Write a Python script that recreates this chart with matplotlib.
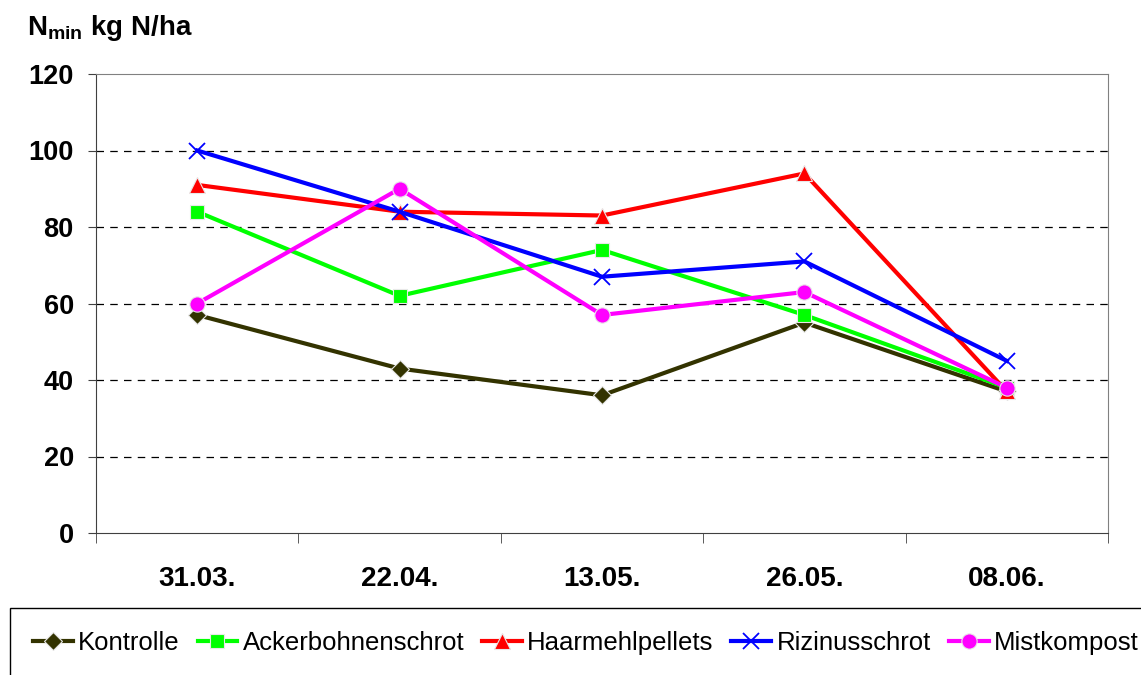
import numpy as np
import matplotlib
matplotlib.use('Agg')
import matplotlib.pyplot as ppl
from matplotlib.patches import Rectangle

ppl.rcParams['font.family'] = ['Liberation Sans', 'DejaVu Sans']
ppl.rcParams['mathtext.fontset'] = 'custom'
ppl.rcParams['mathtext.bf'] = 'Liberation Sans:bold'
ppl.rcParams['mathtext.rm'] = 'Liberation Sans'

# data
dates = ['31.03.', '22.04.', '13.05.', '26.05.', '08.06.']
kontrolle = [57, 43, 36, 55, 37]
ackerbohnen = [84, 62, 74, 57, 38]
haarmehl = [91, 84, 83, 94, 37]
rizinus = [100, 84, 67, 71, 45]
mistkompost = [60, 90, 57, 63, 38]
y_ticks = [0, 20, 40, 60, 80, 100, 120]

series = [
    ('Kontrolle', kontrolle, '#333300', 'D', 9),
    ('Ackerbohnenschrot', ackerbohnen, '#00ff00', 's', 10),
    ('Haarmehlpellets', haarmehl, '#ff0000', '^', 11),
    ('Rizinusschrot', rizinus, '#0000ff', 'x', 12),
    ('Mistkompost', mistkompost, '#ff00ff', 'o', 11),
]

fig = ppl.figure(figsize=(11.41, 6.75), dpi=100)
ax = fig.add_axes([96/1141, 1 - 533/675, (1108-96)/1141, (533-74)/675])

x = np.arange(len(dates))
handles = []
for name, vals, col, mk, ms in series:
    if mk == 'x':
        h, = ax.plot(x, vals, color=col, lw=3, marker=mk, ms=ms, mew=1.3,
                     label=name)
    else:
        h, = ax.plot(x, vals, color=col, lw=3, marker=mk, ms=ms,
                     mec='#e8e8e8', mew=0.8, label=name)
    handles.append(h)

ax.set_xlim(-0.5, len(dates) - 0.5)
ax.set_ylim(0, 120)
ax.set_yticks(y_ticks)
ax.set_yticklabels([str(v) for v in y_ticks], fontsize=19.5, fontweight='bold')
ax.set_xticks(x)
ax.set_xticklabels(dates, fontsize=20, fontweight='bold')
ax.set_xticks(np.arange(-0.5, len(dates)), minor=True)
ax.tick_params(axis='x', which='major', length=0, pad=24)
ax.tick_params(axis='x', which='minor', length=7, direction='out',
               color='#404040')
ax.tick_params(axis='y', length=6, direction='out', pad=10, color='#404040')

for v in y_ticks[1:-1]:
    ax.axhline(v, color='black', lw=0.9, ls=(0, (6, 5)), zorder=0)

ax.spines['left'].set_color('#404040')
ax.spines['bottom'].set_color('#404040')
ax.spines['top'].set_color('#808080')
ax.spines['right'].set_color('#808080')

fig.text(27/1141, 1 - 28/675, r'$\mathbf{N_{min}}$ kg N/ha', fontsize=20,
         fontweight='bold', va='center', ha='left')

# legend box running off the page edge
fig.patches.append(Rectangle((10/1141, -0.1), 1.1, (675-608)/675 + 0.1,
                             transform=fig.transFigure, fill=False,
                             edgecolor='black', lw=1.0))
fig.legend(handles=handles, loc='center left', ncol=5,
           bbox_to_anchor=(33/1141, 1 - 643/675), frameon=False,
           fontsize=18.5, handlelength=1.55, handletextpad=0.2,
           columnspacing=0.7, borderaxespad=0, borderpad=0)

fig.savefig('out.png', dpi=100)
